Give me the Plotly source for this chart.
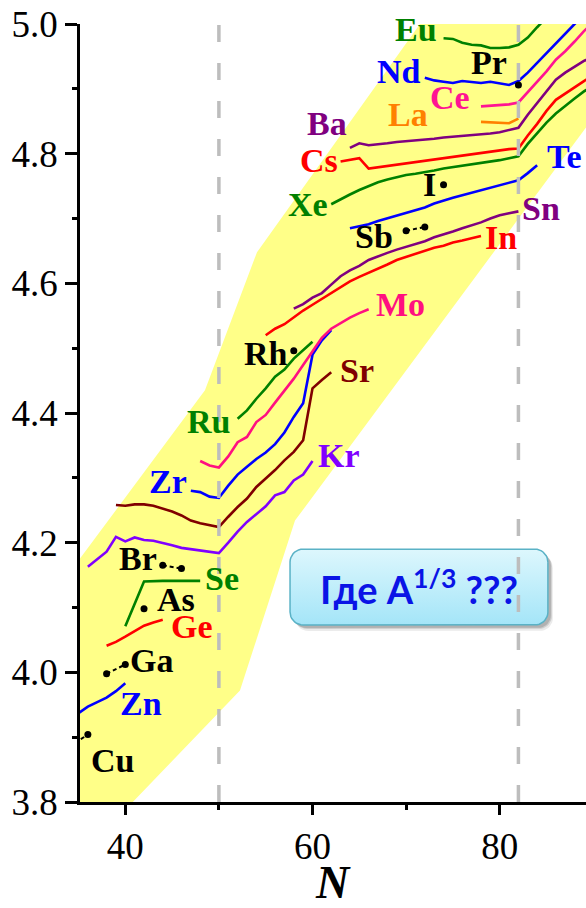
import numpy as np
import plotly.graph_objects as go

# ---------------- axes geometry ----------------
X_RANGE = [35.16, 89.22]
Y_RANGE = [3.8, 5.0]
W, H = 586, 908
M_L, M_R, M_T, M_B = 80, 0, 24, 106
PX_N = (W - M_L - M_R) / (X_RANGE[1] - X_RANGE[0])   # pixels per neutron
PX_R = (H - M_T - M_B) / (Y_RANGE[1] - Y_RANGE[0])   # pixels per fm

# ---------------- isotope chains: N and charge radius R (fm) ----------------
zn_n = [35, 36, 37, 38, 39, 40]
zn_r = [3.937, 3.947, 3.954, 3.961, 3.971, 3.983]

ge_n = [38, 39, 40, 41, 42, 43, 44]
ge_r = [4.041, 4.047, 4.055, 4.064, 4.072, 4.077, 4.081]

se_n = [40, 42, 44, 46, 48]
se_r = [4.071, 4.140, 4.141, 4.141, 4.141]

kr_n = list(range(36, 61))
kr_r = [4.163, 4.175, 4.186, 4.209, 4.202, 4.208, 4.204, 4.203, 4.200, 4.196,
        4.192, 4.190, 4.188, 4.187, 4.184, 4.200, 4.217, 4.232, 4.244, 4.256,
        4.273, 4.278, 4.296, 4.305, 4.326]

sr_n = list(range(39, 63))
sr_r = [4.258, 4.257, 4.259, 4.259, 4.257, 4.253, 4.248, 4.242, 4.234, 4.230,
        4.227, 4.224, 4.240, 4.255, 4.268, 4.286, 4.299, 4.312, 4.327, 4.340,
        4.358, 4.438, 4.451, 4.463]

zr_n = list(range(47, 63))
zr_r = [4.280, 4.278, 4.271, 4.269, 4.288, 4.305, 4.317, 4.329, 4.339, 4.352,
        4.370, 4.394, 4.415, 4.490, 4.512, 4.528]

mo_n = list(range(48, 67))
mo_r = [4.326, 4.319, 4.316, 4.333, 4.355, 4.363, 4.386, 4.397, 4.416, 4.434,
        4.453, 4.474, 4.496, 4.516, 4.530, 4.539, 4.547, 4.554, 4.560]

ru_n = list(range(52, 61))
ru_r = [4.391, 4.404, 4.422, 4.438, 4.456, 4.467, 4.484, 4.497, 4.510]

in_n = list(range(55, 79))
in_r = [4.520, 4.530, 4.537, 4.548, 4.558, 4.567, 4.576, 4.584, 4.594, 4.603,
        4.610, 4.616, 4.622, 4.629, 4.636, 4.641, 4.645, 4.650, 4.655, 4.658,
        4.663, 4.666, 4.670, 4.673]

sn_n = list(range(58, 83))
sn_r = [4.561, 4.568, 4.578, 4.585, 4.598, 4.611, 4.620, 4.627, 4.636, 4.642,
        4.647, 4.652, 4.656, 4.660, 4.665, 4.671, 4.675, 4.680, 4.685, 4.689,
        4.694, 4.700, 4.705, 4.708, 4.711]

te_n = list(range(64, 85))
te_r = [4.685, 4.688, 4.691, 4.696, 4.700, 4.704, 4.708, 4.712, 4.717, 4.723,
        4.728, 4.732, 4.736, 4.740, 4.744, 4.748, 4.752, 4.756, 4.759, 4.770,
        4.782]

xe_n = list(range(62, 91))
xe_r = [4.722, 4.730, 4.737, 4.744, 4.750, 4.756, 4.760, 4.764, 4.767, 4.769,
        4.771, 4.774, 4.777, 4.779, 4.781, 4.783, 4.785, 4.787, 4.790, 4.793,
        4.796, 4.815, 4.832, 4.848, 4.862, 4.874, 4.885, 4.896, 4.905]

cs_n = list(range(63, 91))
cs_r = [4.788, 4.790, 4.793, 4.777, 4.779, 4.781, 4.783, 4.786, 4.787, 4.790,
        4.791, 4.793, 4.795, 4.797, 4.799, 4.801, 4.803, 4.805, 4.807, 4.808,
        4.828, 4.846, 4.866, 4.883, 4.893, 4.903, 4.912, 4.921]

ba_n = list(range(64, 91))
ba_r = [4.809, 4.816, 4.813, 4.814, 4.816, 4.818, 4.819, 4.821, 4.822, 4.823,
        4.825, 4.826, 4.827, 4.828, 4.830, 4.831, 4.833, 4.836, 4.840, 4.860,
        4.878, 4.897, 4.914, 4.925, 4.934, 4.943, 4.950]

la_n = [78, 79, 80, 81, 82]
la_r = [4.849, 4.848, 4.848, 4.847, 4.854]

ce_n = list(range(78, 91))
ce_r = [4.873, 4.874, 4.875, 4.876, 4.879, 4.895, 4.911, 4.927, 4.945, 4.958,
        4.973, 4.989, 5.002]

nd_n = list(range(72, 91))
nd_r = [4.917, 4.913, 4.911, 4.909, 4.912, 4.910, 4.909, 4.911, 4.908, 4.906,
        4.912, 4.925, 4.940, 4.955, 4.969, 4.985, 5.000, 5.013, 5.025]

eu_n = list(range(74, 87))
eu_r = [4.978, 4.977, 4.971, 4.968, 4.967, 4.963, 4.963, 4.964, 4.968, 4.979,
        4.995, 5.010, 5.025]

# sparse chains shown as points
cu_n, cu_r = [34, 36], [3.885, 3.904]
ga_n, ga_r = [38, 40], [3.998, 4.012]
as_n, as_r = [42], [4.098]
br_n, br_r = [44, 46], [4.165, 4.160]
rh_n, rh_r = [58], [4.496]
sb_n, sb_r = [70, 72], [4.681, 4.687]
i_n, i_r = [74], [4.752]
pr_n, pr_r = [82], [4.906]

# shell closures
MAGIC_N = [50, 82]

# shaded corridor of the measured radii
band_n = [34.0, 40.8, 52.25, 58.13, 97.4, 71.48, 54.07, 48.51, 34.0]
band_r = [3.8, 3.8, 3.972, 4.234, 5.0, 5.0, 4.648, 4.435, 4.153]

# element labels: text, N, R, colour
labels = [
    ("Eu", 71.06, 4.991, "#008000"),
    ("Nd", 69.24, 4.926, "#0000FF"),
    ("Pr", 78.86, 4.940, "black"),
    ("Ce", 74.69, 4.886, "#FF1493"),
    ("La", 70.20, 4.861, "#FF8000"),
    ("Ba", 61.55, 4.846, "#800080"),
    ("Cs", 60.69, 4.790, "#FF0000"),
    ("Xe", 59.52, 4.722, "#008000"),
    ("I", 72.45, 4.753, "black"),
    ("Te", 86.87, 4.795, "#0000FF"),
    ("Sn", 84.41, 4.716, "#800080"),
    ("Sb", 66.57, 4.673, "black"),
    ("In", 80.14, 4.670, "#FF0000"),
    ("Mo", 69.45, 4.568, "#FF1080"),
    ("Rh", 55.03, 4.492, "black"),
    ("Sr", 64.75, 4.466, "#800000"),
    ("Ru", 48.84, 4.387, "#008000"),
    ("Kr", 62.83, 4.335, "#8000FF"),
    ("Zr", 44.56, 4.295, "#0000FF"),
    ("Br", 41.36, 4.176, "black"),
    ("Se", 50.33, 4.145, "#008000"),
    ("As", 45.42, 4.1125, "black"),
    ("Ge", 47.13, 4.071, "#FF0000"),
    ("Ga", 42.85, 4.018, "black"),
    ("Zn", 41.68, 3.952, "#0000FF"),
    ("Cu", 38.58, 3.864, "black"),
]

chains = [
    (zn_n, zn_r, "#0000FF"), (ge_n, ge_r, "#FF0000"), (se_n, se_r, "#008000"),
    (kr_n, kr_r, "#8000FF"), (sr_n, sr_r, "#800000"), (zr_n, zr_r, "#0000FF"),
    (mo_n, mo_r, "#FF1080"), (ru_n, ru_r, "#008000"), (in_n, in_r, "#FF0000"),
    (sn_n, sn_r, "#800080"), (te_n, te_r, "#0000FF"), (xe_n, xe_r, "#008000"),
    (cs_n, cs_r, "#FF0000"), (ba_n, ba_r, "#800080"), (la_n, la_r, "#FF8000"),
    (ce_n, ce_r, "#FF1493"), (nd_n, nd_r, "#0000FF"), (eu_n, eu_r, "#008000"),
]
point_sets = [(cu_n, cu_r), (ga_n, ga_r), (as_n, as_r), (br_n, br_r),
              (rh_n, rh_r), (sb_n, sb_r), (i_n, i_r), (pr_n, pr_r)]

SERIF = "Liberation Serif"

fig = go.Figure()

fig.add_trace(go.Scatter(x=band_n, y=band_r, mode="lines", fill="toself",
                         fillcolor="#FFFF88", line=dict(width=0),
                         hoverinfo="skip", showlegend=False))

for n, r, c in chains:
    fig.add_trace(go.Scatter(x=n, y=r, mode="lines",
                             line=dict(color=c, width=2.6),
                             showlegend=False))

for n, r in point_sets:
    fig.add_trace(go.Scatter(x=n, y=r, mode="lines+markers",
                             line=dict(color="black", width=2, dash="4px,3px"),
                             marker=dict(color="black", size=7),
                             showlegend=False))


# callout box with a soft shadow and a vertical gradient
def rounded_box(x0, x1, y0, y1, rad_px):
    rx, ry = rad_px / PX_N, rad_px / PX_R
    xs, ys = [], []
    corners = [(x1 - rx, y1 - ry, 0.0), (x0 + rx, y1 - ry, 90.0),
               (x0 + rx, y0 + ry, 180.0), (x1 - rx, y0 + ry, 270.0)]
    for cx, cy, a0 in corners:
        t = np.radians(np.linspace(a0, a0 + 90, 10))
        xs.extend(cx + rx * np.cos(t))
        ys.extend(cy + ry * np.sin(t))
    xs.append(xs[0])
    ys.append(ys[0])
    return xs, ys


BOX = dict(x0=57.6, x1=85.15, y0=4.073, y1=4.190)
for dx, dy, a in [(5, 6, 0.08), (4, 4, 0.12), (3, 3, 0.14)]:
    sx, sy = rounded_box(BOX["x0"] + dx / PX_N, BOX["x1"] + dx / PX_N,
                         BOX["y0"] - dy / PX_R, BOX["y1"] - dy / PX_R, 13)
    fig.add_trace(go.Scatter(x=sx, y=sy, mode="lines", fill="toself",
                             fillcolor=f"rgba(0,0,0,{a})", line=dict(width=0),
                             hoverinfo="skip", showlegend=False))
bx, by = rounded_box(BOX["x0"], BOX["x1"], BOX["y0"], BOX["y1"], 13)
fig.add_trace(go.Scatter(
    x=bx, y=by, mode="lines", fill="toself",
    fillgradient=dict(type="vertical",
                      colorscale=[[0, "#A4E5F8"], [1, "#DDF7FD"]]),
    line=dict(color="#5AB2C6", width=1.5),
    hoverinfo="skip", showlegend=False))

fig.add_annotation(x=(BOX["x0"] + BOX["x1"]) / 2, y=(BOX["y0"] + BOX["y1"]) / 2,
                   text="Где A<sup>1/3</sup> ???", showarrow=False,
                   font=dict(family="Lato", size=38,
                             color="#0A14E6", weight="bold"))

for txt, n, r, c in labels:
    fig.add_annotation(x=n, y=r, text=txt, showarrow=False,
                       font=dict(family=SERIF, size=34, color=c, weight="bold"))

# x-axis title placed below the tick labels
fig.add_annotation(x=0.5, y=-0.104, xref="paper", yref="paper",
                   text="N", showarrow=False, yanchor="middle",
                   font=dict(family=SERIF, size=46, color="black",
                             weight="bold", style="italic"))

for n in MAGIC_N:
    fig.add_shape(type="line", x0=n, x1=n, y0=Y_RANGE[0], y1=Y_RANGE[1],
                  xref="x", yref="y", layer="above",
                  line=dict(color="#BDBDBD", width=3.5, dash="17px,21px"))

fig.update_layout(
    width=W, height=H,
    margin=dict(l=M_L, r=M_R, t=M_T, b=M_B),
    paper_bgcolor="white", plot_bgcolor="white",
    showlegend=False,
    xaxis=dict(range=X_RANGE, showgrid=False, zeroline=False, automargin=False,
               showline=True, linecolor="black", linewidth=2.5,
               ticks="outside", tickvals=[40, 60, 80], ticklen=10,
               tickwidth=2.5, tickcolor="black",
               tickfont=dict(family=SERIF, size=37, color="black"),
               minor=dict(ticks="outside", tickvals=[50, 70], ticklen=5,
                          tickwidth=2.5, tickcolor="black")),
    yaxis=dict(range=Y_RANGE, showgrid=False, zeroline=False, automargin=False,
               showline=True, linecolor="black", linewidth=2.5,
               ticks="outside", tickvals=[3.8, 4.0, 4.2, 4.4, 4.6, 4.8, 5.0],
               tickformat=".1f", ticklen=12, tickwidth=2.5, tickcolor="black",
               tickfont=dict(family=SERIF, size=37, color="black"),
               minor=dict(ticks="outside",
                          tickvals=[3.9, 4.1, 4.3, 4.5, 4.7, 4.9],
                          ticklen=5, tickwidth=2.5, tickcolor="black")),
)

fig.write_html("out.html")
